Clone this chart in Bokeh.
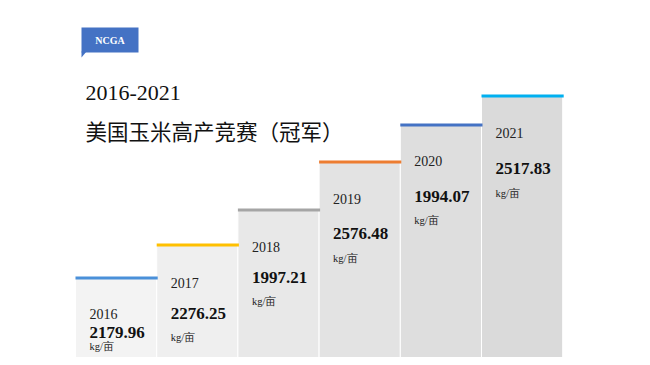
from bokeh.plotting import figure
from bokeh.models import Range1d
from bokeh.embed import file_html
from bokeh.resources import INLINE
from bokeh.core.properties import value

# ---- data ----
years = ["2016", "2017", "2018", "2019", "2020", "2021"]
yields = [2179.96, 2276.25, 1997.21, 2576.48, 1994.07, 2517.83]
unit = "kg/亩"
title_years = "2016-2021"
title_cn = "美国玉米高产竞赛（冠军）"
badge = "NCGA"

# ---- styles ----
accent_colors = ["#4a90d9", "#ffc000", "#a5a5a5", "#ed7d31", "#4472c4", "#00b0f0"]
body_colors = ["#f3f3f3", "#efefef", "#e8e8e8", "#e3e3e3", "#dedede", "#dadada"]

# ---- layout (page pixel space) ----
W, H = 642, 357
p = figure(width=W, height=H, output_backend="svg", toolbar_location=None,
           x_range=Range1d(0, W), y_range=Range1d(H, 0),
           min_border=0)
p.axis.visible = False
p.grid.visible = False
p.outline_line_color = None
p.background_fill_color = "white"
p.border_fill_color = "white"

x0, bw = 75, 81.2
step_tops = [276, 243, 208, 160, 123, 94]   # visual staircase steps
bottom = 380
lefts = [x0 + i * bw for i in range(len(years))]
rights = [l + bw for l in lefts]

p.quad(left=lefts, right=rights, top=step_tops, bottom=[bottom] * len(years),
       fill_color=body_colors, line_color="white", line_width=1)
p.quad(left=lefts, right=[r + 1 for r in rights], top=step_tops,
       bottom=[t + 3 for t in step_tops], fill_color=accent_colors, line_color=None)

yr_off = [37, 39, 38, 38, 37, 38]
val_off = [56, 70, 69, 73, 73, 74]
unit_off = [70, 94, 93, 98, 97, 99]
tx = [l + 14 for l in lefts]

serif = value("Liberation Serif")
p.text(x=tx, y=[t + o for t, o in zip(step_tops, yr_off)], text=years,
       text_font=serif, text_font_size="14px", text_color="#222222",
       text_baseline="alphabetic")
p.text(x=tx, y=[t + o for t, o in zip(step_tops, val_off)],
       text=[f"{v:.2f}" for v in yields],
       text_font=serif, text_font_size="17px", text_font_style="bold",
       text_color="#111111", text_baseline="alphabetic")
p.text(x=tx, y=[t + o for t, o in zip(step_tops, unit_off)], text=[unit] * len(years),
       text_font=serif, text_font_size="10.5px", text_color="#222222",
       text_baseline="alphabetic")

# badge
p.quad(left=[81], right=[138], top=[27], bottom=[52], fill_color="#4472c4", line_color=None)
p.patch(x=[81, 81, 86], y=[51, 57, 51], fill_color="#4472c4", line_color=None)
p.text(x=[109.5], y=[40], text=[badge], text_font=serif, text_font_size="10px",
       text_font_style="bold", text_color="white", text_align="center",
       text_baseline="middle")

# titles
p.text(x=[85], y=[92], text=[title_years], text_font=serif, text_font_size="22px",
       text_color="#111111", text_baseline="alphabetic")
p.text(x=[85], y=[130], text=[title_cn], text_font=value("Noto Sans CJK TC"),
       text_font_size="21.5px", text_color="#111111", text_baseline="alphabetic")

open("out.html", "w").write(file_html(p, INLINE))
